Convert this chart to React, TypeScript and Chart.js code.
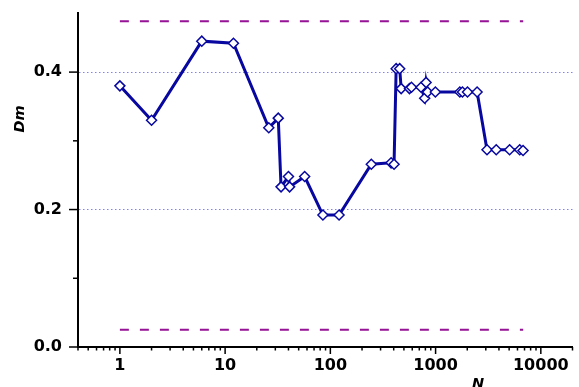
import React, { useEffect, useRef } from 'react';
import { Chart, registerables } from 'chart.js';

Chart.register(...registerables);

// ---- data ----
const N_VALUES = [
  1, 2, 6, 12, 26, 32, 34, 40, 41, 57, 85, 121, 245, 378, 403, 422, 456, 471,
  565, 590, 727, 788, 812, 840, 995, 1700, 1800, 2010, 2480, 3080, 3770, 5050, 6300, 6780,
];
const DM_VALUES = [
  0.380, 0.330, 0.445, 0.442, 0.319, 0.333, 0.233, 0.248, 0.233, 0.248, 0.192, 0.192, 0.266, 0.268,
  0.266, 0.405, 0.405, 0.376, 0.376, 0.378, 0.378, 0.362, 0.385, 0.371, 0.371, 0.371, 0.371, 0.371,
  0.371, 0.287, 0.287, 0.287, 0.287, 0.286,
];
const LIMIT_N = [1, 6800];
const UPPER_LIMIT = [0.474, 0.474];
const LOWER_LIMIT = [0.025, 0.025];

const X_MIN = 0.4;
const X_MAX = 20000;
const Y_MIN = 0;
const Y_MAX = 0.486;
const X_LABELS = [1, 10, 100, 1000, 10000];
const Y_TICKS = [0, 0.1, 0.2, 0.3, 0.4];
const Y_LABELS = [0, 0.2, 0.4];
const Y_GRID = [0.2, 0.4];

const FONT = "'DejaVu Sans', Verdana, sans-serif";
const near = (a: number, b: number) => Math.abs(a - b) <= 1e-9 * Math.max(1, Math.abs(b));

function logTickValues(min: number, max: number): number[] {
  const out: number[] = [];
  for (let e = -2; e <= 6; e++) {
    for (let m = 1; m <= 9; m++) {
      const v = +(m * Math.pow(10, e)).toPrecision(6);
      if (v >= min && v <= max) out.push(v);
    }
  }
  return out;
}

const decorPlugin = {
  id: 'decor',
  afterDraw(chart: any) {
    const ctx = chart.ctx;
    const { left, bottom } = chart.chartArea;
    const xs = chart.scales.x;
    const ys = chart.scales.y;
    ctx.save();
    ctx.strokeStyle = '#000';
    ctx.lineWidth = 1.5;
    xs.ticks.forEach((t: any) => {
      const px = xs.getPixelForValue(t.value);
      const major = X_LABELS.some((v) => near(t.value, v));
      ctx.beginPath();
      ctx.moveTo(px, bottom);
      ctx.lineTo(px, bottom + (major ? 7 : 3.5));
      ctx.stroke();
    });
    ys.ticks.forEach((t: any) => {
      const py = ys.getPixelForValue(t.value);
      const major = Y_LABELS.some((v) => near(t.value, v));
      ctx.beginPath();
      ctx.moveTo(left, py);
      ctx.lineTo(left - (major ? 9 : 5), py);
      ctx.stroke();
    });
    // axis titles
    ctx.fillStyle = '#000';
    ctx.font = `italic bold 14.5px ${FONT}`;
    ctx.textAlign = 'center';
    ctx.textBaseline = 'middle';
    ctx.save();
    ctx.translate(20, 119);
    ctx.rotate(-Math.PI / 2);
    ctx.fillText('Dm', 0, 0);
    ctx.restore();
    ctx.textBaseline = 'top';
    ctx.fillText('N', 478, 377);
    ctx.restore();
  },
};

export default function App() {
  const ref = useRef<HTMLCanvasElement | null>(null);

  useEffect(() => {
    if (!ref.current) return;
    const mainData = N_VALUES.map((x, i) => ({ x, y: DM_VALUES[i] }));
    const upper = LIMIT_N.map((x, i) => ({ x, y: UPPER_LIMIT[i] }));
    const lower = LIMIT_N.map((x, i) => ({ x, y: LOWER_LIMIT[i] }));
    const chart = new Chart(ref.current, {
      type: 'line',
      data: {
        datasets: [
          {
            label: 'Dm',
            data: mainData,
            borderColor: '#0808a0',
            borderWidth: 3,
            pointStyle: 'rectRot',
            pointRadius: 5,
            pointBackgroundColor: '#ffffff',
            pointBorderColor: '#0808a0',
            pointBorderWidth: 1.5,
            tension: 0,
          },
          {
            label: 'upper',
            data: upper,
            borderColor: '#961296',
            borderWidth: 2,
            borderDash: [9, 11],
            pointRadius: 0,
          },
          {
            label: 'lower',
            data: lower,
            borderColor: '#961296',
            borderWidth: 2,
            borderDash: [9, 11],
            pointRadius: 0,
          },
        ],
      },
      options: {
        responsive: false,
        animation: false,
        layout: { padding: { top: 13, right: 3, left: 0, bottom: 0 } },
        plugins: {
          legend: { display: false },
          tooltip: { enabled: false },
        },
        scales: {
          x: {
            type: 'logarithmic',
            min: X_MIN,
            max: X_MAX,
            afterBuildTicks: (scale: any) => {
              scale.ticks = logTickValues(X_MIN, X_MAX).map((v) => ({ value: v }));
            },
            afterFit: (scale: any) => {
              scale.height = 40;
              scale.paddingLeft = 0;
              scale.paddingRight = 0;
            },
            grid: { display: false, drawTicks: false },
            border: { display: true, color: '#000', width: 2 },
            ticks: {
              autoSkip: false,
              maxRotation: 0,
              padding: 9,
              color: '#000',
              font: { family: FONT, size: 16, weight: 'bold' },
              callback: (v: any) => {
                const n = Number(v);
                return X_LABELS.some((l) => near(n, l)) ? String(Math.round(n)) : '';
              },
            },
          },
          y: {
            type: 'linear',
            min: Y_MIN,
            max: Y_MAX,
            afterBuildTicks: (scale: any) => {
              scale.ticks = Y_TICKS.map((v) => ({ value: v }));
            },
            afterFit: (scale: any) => {
              scale.width = 78;
              scale.paddingTop = 0;
              scale.paddingBottom = 0;
            },
            grid: {
              display: true,
              drawTicks: false,
              lineWidth: 1,
              color: (c: any) =>
                c.tick && Y_GRID.some((v) => near(c.tick.value, v)) ? '#8080ff' : 'rgba(0,0,0,0)',
            },
            border: { display: true, color: '#000', width: 2, dash: [1.5, 2.5] },
            ticks: {
              autoSkip: false,
              padding: 16,
              color: '#000',
              font: { family: FONT, size: 16, weight: 'bold' },
              callback: (v: any) => {
                const n = Number(v);
                return Y_LABELS.some((l) => near(n, l)) ? n.toFixed(1) : '';
              },
            },
          },
        },
      } as any,
      plugins: [decorPlugin],
    });
    return () => chart.destroy();
  }, []);

  return (
    <div style={{ position: 'absolute', left: 0, top: 0, width: 579, height: 387, background: '#fff' }}>
      <canvas ref={ref} width={579} height={387} style={{ display: 'block' }} />
    </div>
  );
}
